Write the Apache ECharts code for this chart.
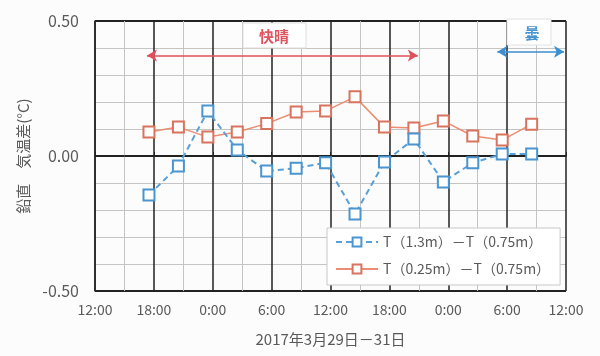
<!DOCTYPE html>
<html><head><meta charset="utf-8">
<script src="https://cdn.jsdelivr.net/npm/echarts@6/dist/echarts.min.js"></script>
<style>html,body{margin:0;padding:0;background:#fcfcfc}#c{width:600px;height:356px}</style>
</head><body><div id="c"></div>
<script>
// hours since 12:00 on 2017-03-29
const hours = [5.5, 8.5, 11.5, 14.5, 17.5, 20.5, 23.5, 26.5, 29.5, 32.5, 35.5, 38.5, 41.5, 44.5];
const blueValues = [-0.144, -0.037, 0.167, 0.022, -0.056, -0.045, -0.025, -0.215, -0.022, 0.063, -0.096, -0.025, 0.007, 0.007];
const orangeValues = [0.089, 0.107, 0.070, 0.089, 0.120, 0.163, 0.167, 0.219, 0.107, 0.104, 0.130, 0.074, 0.059, 0.118];
const xTickLabels = ['12:00', '18:00', '0:00', '6:00', '12:00', '18:00', '0:00', '6:00', '12:00'];
const blueName = 'T（1.3m）－T（0.75m）';
const orangeName = 'T（0.25m）－T（0.75m）';
const clearRange = [5.3, 32.9, 0.372];
const cloudRange = [41.0, 47.8, 0.386];

const font = '"Noto Sans CJK JP", "Noto Sans", sans-serif';
const chart = echarts.init(document.getElementById('c'));
chart.setOption({
  backgroundColor: '#fcfcfc',
  animation: false,
  textStyle: { fontFamily: font },
  grid: { left: 95, right: 34, top: 21, bottom: 65 },
  xAxis: {
    type: 'value', min: 0, max: 48, interval: 6,
    name: '2017年3月29日－31日', nameLocation: 'middle', nameGap: 41,
    nameTextStyle: { color: '#5a5a5a', fontSize: 15, fontFamily: font },
    axisLine: { show: true, lineStyle: { color: '#222', width: 1.5 } },
    axisTick: { show: true, inside: true, length: 4, lineStyle: { color: '#222' } },
    axisLabel: { color: '#5a5a5a', fontSize: 14, margin: 12, fontFamily: font,
      formatter: v => xTickLabels[Math.round(v / 6)] },
    splitLine: { show: true, lineStyle: { color: '#222', width: 1.5 } },
    minorTick: { show: false, splitNumber: 2 },
    minorSplitLine: { show: true, lineStyle: { color: '#c4c4c4', width: 1 } }
  },
  yAxis: {
    type: 'value', min: -0.5, max: 0.5, interval: 0.5,
    name: '鉛直　気温差(°C)', nameLocation: 'middle', nameGap: 64, nameRotate: 90,
    nameTextStyle: { color: '#5a5a5a', fontSize: 15, fontFamily: font },
    axisLine: { show: true, lineStyle: { color: '#222', width: 1.5 } },
    axisTick: { show: false },
    axisLabel: { color: '#5a5a5a', fontSize: 16, margin: 16, fontFamily: font,
      formatter: v => v.toFixed(2) },
    splitLine: { show: true, lineStyle: { color: '#222', width: 2 } },
    minorTick: { show: false, splitNumber: 5 },
    minorSplitLine: { show: true, lineStyle: { color: '#c4c4c4', width: 1 } }
  },
  legend: {
    orient: 'vertical', left: 327, top: 228,
    padding: [7, 10, 9, 8], itemGap: 13,
    itemWidth: 42, itemHeight: 11,
    backgroundColor: '#ffffff', borderColor: '#c8c8c8', borderWidth: 1,
    textStyle: { color: '#5a5a5a', fontSize: 14, fontFamily: font },
    data: [blueName, orangeName]
  },
  series: [
    {
      name: blueName, type: 'line',
      data: hours.map((h, i) => [h, blueValues[i]]),
      symbol: 'emptyRect', symbolSize: 11,
      lineStyle: { color: '#5aa0d6', width: 2, type: [6, 4] },
      itemStyle: { color: '#4a94cf', borderColor: '#4a94cf', borderWidth: 1.2 },
      z: 4,
      markLine: {
        silent: true, symbol: ['arrow', 'arrow'], symbolSize: [9, 10],
        label: { show: false },
        lineStyle: { color: '#3b8fd3', width: 1.5, type: 'solid' },
        data: [[{ coord: [cloudRange[0], cloudRange[2]] }, { coord: [cloudRange[1], cloudRange[2]] }]]
      }
    },
    {
      name: orangeName, type: 'line',
      data: hours.map((h, i) => [h, orangeValues[i]]),
      symbol: 'emptyRect', symbolSize: 11,
      lineStyle: { color: '#ec8d72', width: 1.5 },
      itemStyle: { color: '#d8735e', borderColor: '#d8735e', borderWidth: 1.2 },
      z: 3,
      markLine: {
        silent: true, symbol: ['arrow', 'arrow'], symbolSize: [9, 10],
        label: { show: false },
        lineStyle: { color: '#e0505a', width: 1.5, type: 'solid' },
        data: [[{ coord: [clearRange[0], clearRange[2]] }, { coord: [clearRange[1], clearRange[2]] }]]
      }
    }
  ],
  graphic: [
    { type: 'rect', shape: { x: 243, y: 23, width: 63, height: 25 },
      style: { fill: '#ffffff', stroke: '#dddddd', lineWidth: 1 }, z: 10 },
    { type: 'text', x: 274, y: 36, z: 11,
      style: { text: '快晴', fill: '#e05560', font: 'bold 15px ' + font, align: 'center', verticalAlign: 'middle' } },
    { type: 'rect', shape: { x: 507, y: 19, width: 44, height: 26 },
      style: { fill: '#ffffff', stroke: '#e2e2e2', lineWidth: 1 }, z: 10 },
    { type: 'text', x: 532, y: 33, z: 11,
      style: { text: '曇', fill: '#4a94cf', font: 'bold 15px ' + font, align: 'center', verticalAlign: 'middle' } }
  ]
});
</script></body></html>
